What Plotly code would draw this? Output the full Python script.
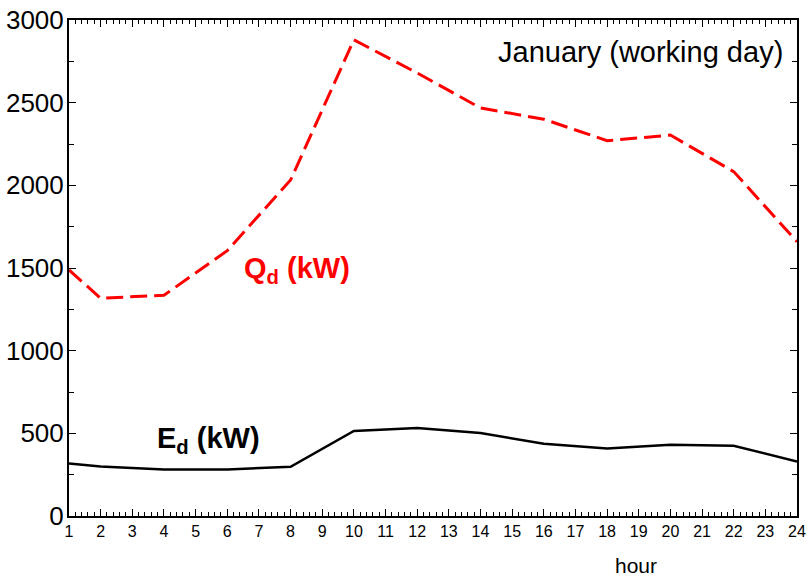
import plotly.graph_objects as go

hours_q = [1, 2, 4, 6, 8, 10, 12, 14, 16, 18, 20, 22, 24]
q_d = [1488, 1317, 1335, 1605, 2032, 2880, 2680, 2468, 2400, 2270, 2304, 2083, 1659]

hours_e = [1, 2, 4, 6, 8, 10, 12, 14, 16, 18, 20, 22, 24]
e_d = [318, 300, 282, 282, 298, 514, 532, 502, 437, 409, 431, 425, 329]

x_ticks = list(range(1, 25))
y_ticks = [0, 500, 1000, 1500, 2000, 2500, 3000]

FONT = "Liberation Sans, Arial, sans-serif"

fig = go.Figure()
fig.add_trace(go.Scatter(x=hours_q, y=q_d, mode="lines",
                         line=dict(color="#ff0000", width=3, dash="17px,7px"),
                         showlegend=False))
fig.add_trace(go.Scatter(x=hours_e, y=e_d, mode="lines",
                         line=dict(color="#000000", width=2.5),
                         showlegend=False))
# empty trace so the mirrored (top/right) tick axes are drawn
fig.add_trace(go.Scatter(x=[], y=[], xaxis="x2", yaxis="y2", showlegend=False,
                         hoverinfo="skip"))

xcommon = dict(range=[1, 24], tickvals=x_ticks, showgrid=False, zeroline=False,
               showline=True, linecolor="black", linewidth=2, ticks="inside",
               ticklen=7, tickwidth=1, tickcolor="black", automargin=False,
               minor=dict(dtick=0.2, ticks="inside", ticklen=4, tickcolor="black", tickwidth=1))
ycommon = dict(range=[0, 3000], tickvals=y_ticks, showgrid=False, zeroline=False,
               showline=True, linecolor="black", linewidth=2, ticks="inside",
               ticklen=7, tickwidth=1, tickcolor="black", automargin=False,
               minor=dict(dtick=250, ticks="inside", ticklen=5, tickcolor="black", tickwidth=1))

fig.update_layout(
    width=808, height=579,
    margin=dict(l=69, r=11, t=20, b=63),
    paper_bgcolor="white", plot_bgcolor="white",
    font=dict(family=FONT, color="black"),
    xaxis=dict(**xcommon, ticktext=[str(v) for v in x_ticks],
               tickfont=dict(size=16, family=FONT)),
    yaxis=dict(**ycommon, ticktext=[str(v) for v in y_ticks],
               tickfont=dict(size=26, family=FONT), ticklabelstandoff=-2),
    xaxis2=dict(**xcommon, overlaying="x", side="top", anchor="y", showticklabels=False),
    yaxis2=dict(**ycommon, overlaying="y", side="right", anchor="x", showticklabels=False),
    annotations=[
        dict(x=23.62, y=2806, xref="x", yref="y", text="January (working day)",
             showarrow=False, xanchor="right", yanchor="middle",
             font=dict(size=29, family=FONT, color="black")),
        dict(x=8.2, y=1488, xref="x", yref="y", text="<b>Q<sub>d</sub> (kW)</b>",
             showarrow=False, xanchor="center", yanchor="middle",
             font=dict(size=29, family=FONT, color="#ff0000")),
        dict(x=5.4, y=460, xref="x", yref="y", text="<b>E<sub>d</sub> (kW)</b>",
             showarrow=False, xanchor="center", yanchor="middle",
             font=dict(size=29, family=FONT, color="black")),
        dict(x=0.779, y=-0.1008, xref="paper", yref="paper", text="hour",
             showarrow=False, xanchor="center", yanchor="middle",
             font=dict(size=21, family=FONT, color="black")),
    ],
)

fig.write_html("out.html")
